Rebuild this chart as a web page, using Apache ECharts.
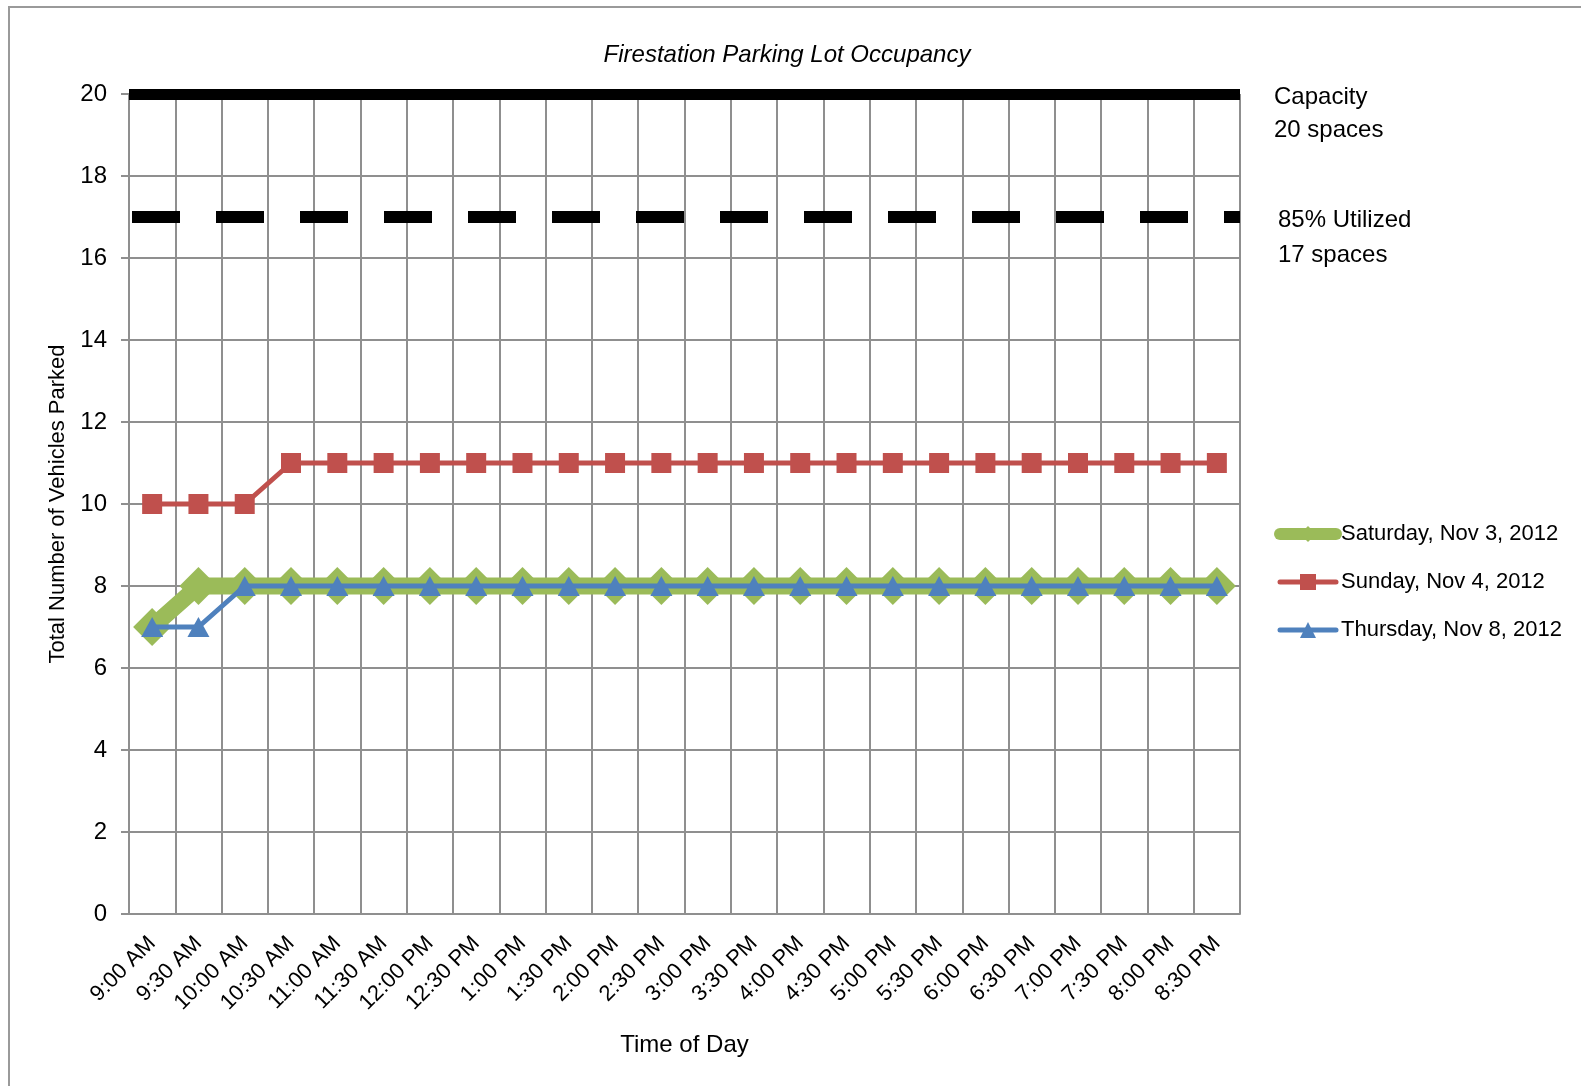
<!DOCTYPE html>
<html>
<head>
<meta charset="utf-8">
<script src="https://cdn.jsdelivr.net/npm/echarts@6/dist/echarts.min.js"></script>
<style>
  html, body { margin: 0; padding: 0; background: #fff; }
  #chart { width: 1581px; height: 1086px; }
</style>
</head>
<body>
<div id="chart"></div>
<script>
// Half-hour survey times
const times = ['9:00 AM','9:30 AM','10:00 AM','10:30 AM','11:00 AM','11:30 AM',
  '12:00 PM','12:30 PM','1:00 PM','1:30 PM','2:00 PM','2:30 PM','3:00 PM','3:30 PM',
  '4:00 PM','4:30 PM','5:00 PM','5:30 PM','6:00 PM','6:30 PM','7:00 PM','7:30 PM',
  '8:00 PM','8:30 PM'];

// Parked vehicle counts per survey day
const saturday = [7,8,8,8,8,8,8,8,8,8,8,8,8,8,8,8,8,8,8,8,8,8,8,8];
const sunday   = [10,10,10,11,11,11,11,11,11,11,11,11,11,11,11,11,11,11,11,11,11,11,11,11];
const thursday = [7,7,8,8,8,8,8,8,8,8,8,8,8,8,8,8,8,8,8,8,8,8,8,8];

const seriesNames = ['Saturday, Nov 3, 2012', 'Sunday, Nov 4, 2012', 'Thursday, Nov 8, 2012'];
const seriesColors = ['#9BBB59', '#C0504D', '#4F81BD'];

// Reference levels
const capacity = 20;
const utilized85 = 17;

const yTicks = { min: 0, max: 20, interval: 2 };

const FONT = "'Liberation Sans Narrow', 'Arial Narrow', 'Liberation Sans', sans-serif";
const GRID_COLOR = '#8f8f8f';

const chart = echarts.init(document.getElementById('chart'));

chart.setOption({
  backgroundColor: '#ffffff',
  animation: false,
  textStyle: { fontFamily: FONT, color: '#000' },
  title: {
    text: 'Firestation Parking Lot Occupancy',
    left: 782,
    top: 38,
    textAlign: 'center',
    textStyle: { fontFamily: FONT, fontStyle: 'italic', fontWeight: 'normal', fontSize: 24, color: '#000' }
  },
  graphic: [{
    type: 'rect',
    shape: { x: 9, y: 7, width: 1700, height: 1200 },
    style: { fill: null, stroke: '#9a9a9a', lineWidth: 2 },
    silent: true,
    z: -1
  }],
  grid: { left: 129, right: 341, top: 94, bottom: 172, containLabel: false },
  legend: {
    orient: 'vertical',
    left: 1269,
    top: 518,
    itemWidth: 56,
    itemHeight: 20,
    itemGap: 26,
    textStyle: { fontFamily: FONT, fontSize: 22, color: '#000' },
    data: [
      { name: seriesNames[0], lineStyle: { width: 12, cap: 'round' } },
      { name: seriesNames[1], lineStyle: { width: 5, cap: 'round' } },
      { name: seriesNames[2], lineStyle: { width: 5, cap: 'round' } }
    ]
  },
  xAxis: {
    type: 'category',
    data: times,
    boundaryGap: true,
    name: 'Time of Day',
    nameLocation: 'middle',
    nameGap: 119,
    nameTextStyle: { fontFamily: FONT, fontSize: 24, color: '#000' },
    axisLine: { lineStyle: { color: GRID_COLOR, width: 2 } },
    axisTick: { show: false },
    axisLabel: { interval: 0, rotate: 45, margin: 26, fontFamily: FONT, fontSize: 22, color: '#000' },
    splitLine: { show: true, interval: 0, lineStyle: { color: GRID_COLOR, width: 2 } }
  },
  yAxis: {
    type: 'value',
    min: yTicks.min,
    max: yTicks.max,
    interval: yTicks.interval,
    name: 'Total Number of Vehicles Parked',
    nameLocation: 'middle',
    nameGap: 53,
    nameTextStyle: { fontFamily: FONT, fontSize: 22, color: '#000' },
    axisLine: { show: true, lineStyle: { color: GRID_COLOR, width: 2 } },
    axisTick: { show: true, length: 8, lineStyle: { color: GRID_COLOR, width: 2 } },
    axisLabel: { margin: 22, fontFamily: FONT, fontSize: 24, color: '#000' },
    splitLine: { show: true, lineStyle: { color: GRID_COLOR, width: 2 } }
  },
  series: [
    {
      name: seriesNames[0],
      type: 'line',
      data: saturday,
      symbol: 'diamond',
      symbolSize: 38,
      lineStyle: { color: seriesColors[0], width: 17 },
      itemStyle: { color: seriesColors[0] },
      z: 3,
      markLine: {
        silent: true,
        symbol: 'none',
        animation: false,
        data: [
          {
            yAxis: capacity,
            lineStyle: { color: '#000', width: 11, type: 'solid' },
            label: {
              show: true, position: 'end', distance: 34, offset: [0, 20],
              formatter: 'Capacity\n' + capacity + ' spaces',
              fontFamily: FONT, fontSize: 24, lineHeight: 33, color: '#000', align: 'left'
            }
          },
          {
            yAxis: utilized85,
            lineStyle: { color: '#000', width: 12, type: [48, 36], dashOffset: -3, cap: 'butt' },
            label: {
              show: true, position: 'end', distance: 38, offset: [0, 21],
              formatter: '85% Utilized\n' + utilized85 + ' spaces',
              fontFamily: FONT, fontSize: 24, lineHeight: 35, color: '#000', align: 'left'
            }
          }
        ]
      }
    },
    {
      name: seriesNames[1],
      type: 'line',
      data: sunday,
      symbol: 'rect',
      symbolSize: 20,
      lineStyle: { color: seriesColors[1], width: 5 },
      itemStyle: { color: seriesColors[1] },
      z: 4
    },
    {
      name: seriesNames[2],
      type: 'line',
      data: thursday,
      symbol: 'triangle',
      symbolSize: [22, 20],
      lineStyle: { color: seriesColors[2], width: 5 },
      itemStyle: { color: seriesColors[2] },
      z: 5
    }
  ]
});
</script>
</body>
</html>
